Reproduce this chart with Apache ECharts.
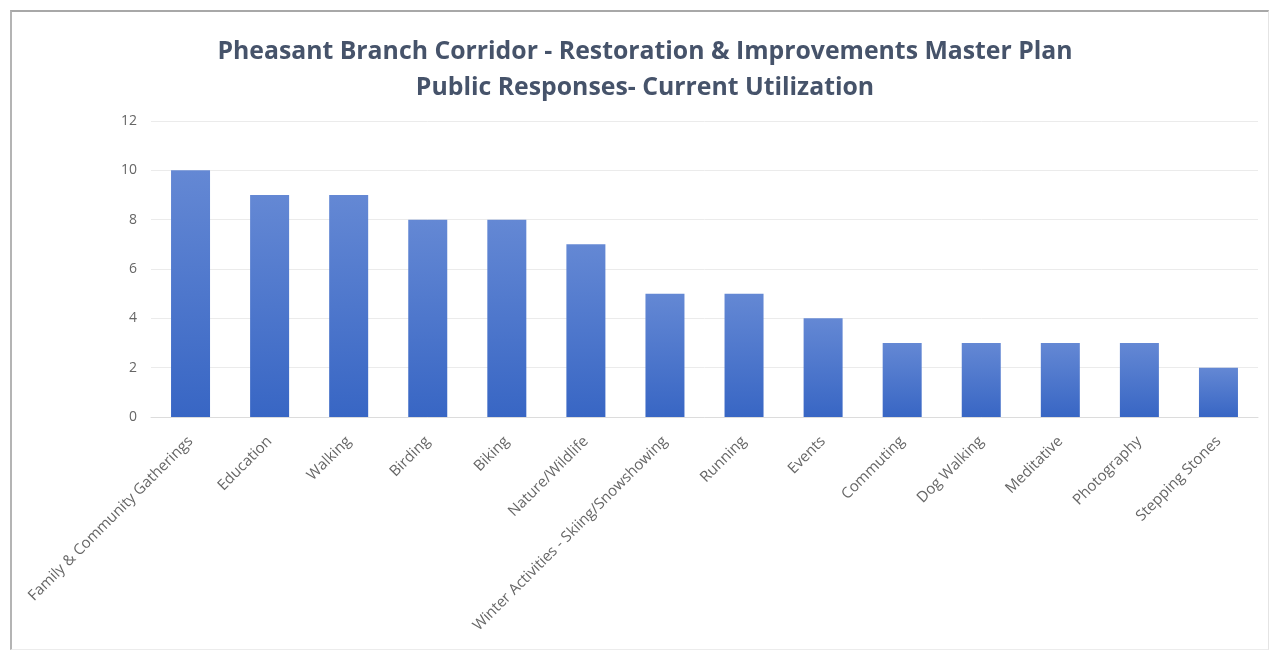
<!DOCTYPE html>
<html>
<head>
<meta charset="utf-8">
<script src="https://cdn.jsdelivr.net/npm/echarts@6/dist/echarts.min.js"></script>
<style>
  html, body { margin: 0; padding: 0; background: #ffffff; }
  #frame {
    position: absolute; left: 10px; top: 10px; width: 1259px; height: 640px;
    border-top: 2px solid #a8a8a8; border-left: 2px solid #b4b4b4;
    border-right: 1px solid #e4e4e4; border-bottom: 1px solid #ececec;
    box-sizing: border-box;
  }
  #chart { position: absolute; left: 0; top: 0; width: 1276px; height: 654px; }
</style>
</head>
<body>
<div id="frame"></div>
<div id="chart"></div>
<script>
// Activities reported by respondents
const categories = [
  'Family & Community Gatherings', 'Education', 'Walking', 'Birding', 'Biking',
  'Nature/Wildlife', 'Winter Activities - Skiing/Snowshowing', 'Running', 'Events',
  'Commuting', 'Dog Walking', 'Meditative', 'Photography', 'Stepping Stones'
];
// Number of responses per activity
const responses = [10, 9, 9, 8, 8, 7, 5, 5, 4, 3, 3, 3, 3, 2];
// Value axis ticks
const yTicks = [0, 2, 4, 6, 8, 10, 12];

const font = "'Open Sans', 'Noto Sans', sans-serif";
const chart = echarts.init(document.getElementById('chart'));
chart.setOption({
  animation: false,
  title: {
    text: 'Pheasant Branch Corridor - Restoration & Improvements Master Plan\nPublic Responses- Current Utilization',
    left: 640,
    top: 29,
    textAlign: 'center',
    textStyle: {
      fontFamily: font, fontSize: 24.8, fontWeight: 'bold', color: '#46536a', lineHeight: 36
    }
  },
  grid: { left: 151, right: 18, top: 121, bottom: 237, containLabel: false },
  xAxis: {
    type: 'category',
    data: categories,
    axisLine: { show: true, lineStyle: { color: '#dcdcdc', width: 1 } },
    axisTick: { show: false },
    axisLabel: {
      rotate: 45, interval: 0, margin: 22, color: '#666666',
      fontFamily: font, fontSize: 15
    }
  },
  yAxis: {
    type: 'value',
    min: yTicks[0], max: yTicks[yTicks.length - 1], interval: 2,
    axisLine: { show: false },
    axisTick: { show: false },
    axisLabel: { color: '#666666', fontFamily: font, fontSize: 14, margin: 14 },
    splitLine: { lineStyle: { color: '#ebebeb', width: 1 } }
  },
  series: [{
    type: 'bar',
    data: responses,
    barWidth: 39,
    itemStyle: {
      color: new echarts.graphic.LinearGradient(0, 0, 0, 1, [
        { offset: 0, color: '#6488d4' },
        { offset: 1, color: '#3866c4' }
      ])
    }
  }]
});
</script>
</body>
</html>
